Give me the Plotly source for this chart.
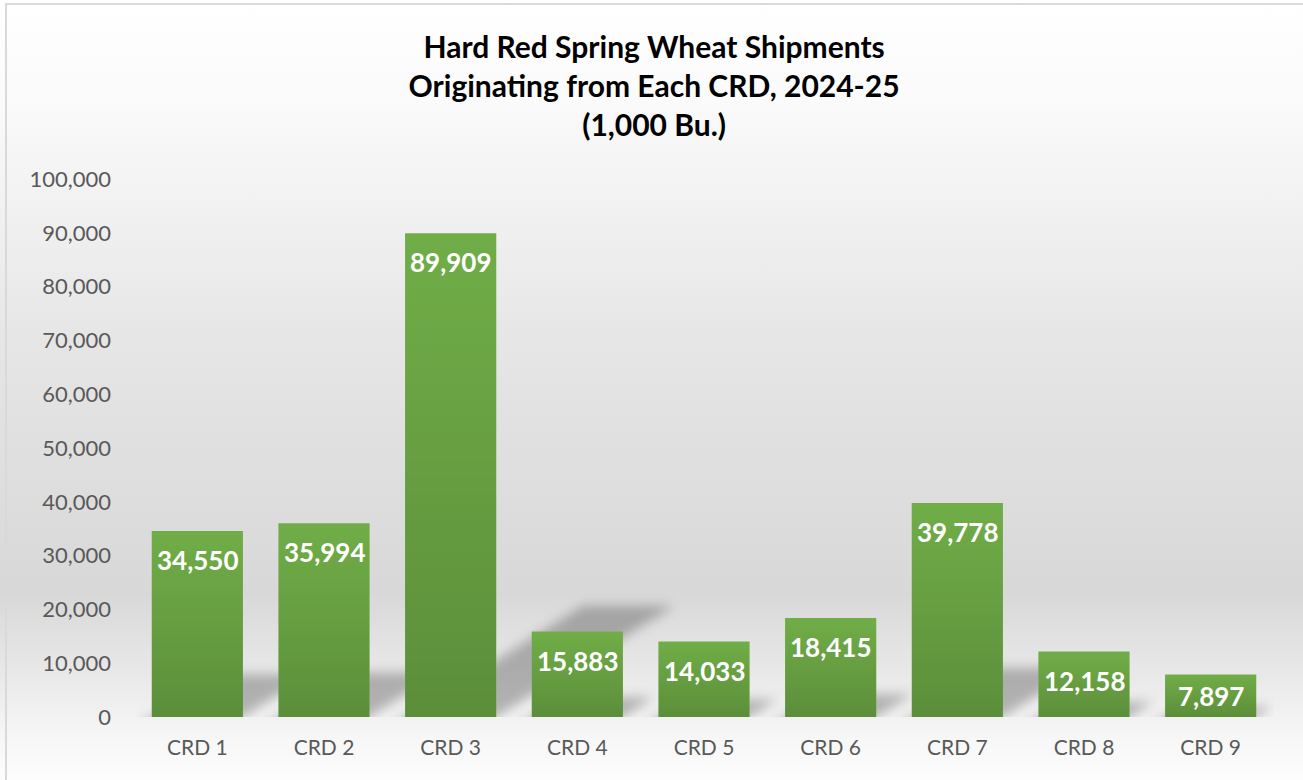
import base64
import plotly.graph_objects as go

# data (1,000 bu.)
categories = ["CRD 1", "CRD 2", "CRD 3", "CRD 4", "CRD 5", "CRD 6", "CRD 7", "CRD 8", "CRD 9"]
shipments = [34550, 35994, 89909, 15883, 14033, 18415, 39778, 12158, 7897]
y_ticks = [0, 10000, 20000, 30000, 40000, 50000, 60000, 70000, 80000, 90000, 100000]

FONT = "Lato"
W, H = 1303, 780
M = dict(l=134, r=29, t=179, b=63)
plot_w = W - M["l"] - M["r"]
plot_h = H - M["t"] - M["b"]
y_max = 100000
bar_w = 0.72
px_x = plot_w / len(categories)   # pixels per category
px_y = plot_h / y_max             # pixels per bushel unit


def svg_uri(svg):
    return "data:image/svg+xml;base64," + base64.b64encode(svg.encode()).decode()


# chart-area background: light vertical gradient + thin border
bg_svg = f"""<svg xmlns="http://www.w3.org/2000/svg" width="{W}" height="{H}" viewBox="0 0 {W} {H}" preserveAspectRatio="none">
<defs><linearGradient id="g" x1="0" y1="0" x2="0" y2="1">
<stop offset="0" stop-color="#ffffff"/>
<stop offset="0.12" stop-color="#fbfbfb"/>
<stop offset="0.45" stop-color="#e5e5e5"/>
<stop offset="0.76" stop-color="#d8d8d8"/>
<stop offset="0.88" stop-color="#ebebeb"/>
<stop offset="0.95" stop-color="#f7f7f7"/>
<stop offset="1" stop-color="#fdfdfd"/>
</linearGradient></defs>
<rect width="{W}" height="{H}" fill="url(#g)"/>
<rect x="6" y="4" width="{W + 40}" height="{H + 40}" fill="none" stroke="#d9d9d9" stroke-width="2"/>
</svg>"""

images = [dict(source=svg_uri(bg_svg), xref="paper", yref="paper",
               x=-M["l"] / plot_w, y=1 + M["t"] / plot_h,
               sizex=W / plot_w, sizey=H / plot_h,
               xanchor="left", yanchor="top", sizing="stretch", layer="below")]

# soft perspective shadows cast back/right of each bar
pad = 16
for i, v in enumerate(shipments):
    sh = 0.23 * v * px_y
    shift = 1.6 * sh
    bw = bar_w * px_x
    iw = bw + shift + 2 * pad
    ih = sh + pad
    e = 30
    off = shift * e / sh
    pts = [(pad + shift, pad), (pad + shift + bw, pad),
           (pad + bw - off, pad + sh + e), (pad - off, pad + sh + e)]
    pts_s = " ".join(f"{x:.1f},{y:.1f}" for x, y in pts)
    sv = f"""<svg xmlns="http://www.w3.org/2000/svg" width="{iw:.1f}" height="{ih:.1f}" viewBox="0 0 {iw:.1f} {ih:.1f}" preserveAspectRatio="none">
<defs><filter id="b" x="-50%" y="-50%" width="200%" height="200%"><feGaussianBlur stdDeviation="6"/></filter></defs>
<polygon points="{pts_s}" fill="rgba(0,0,0,0.26)" filter="url(#b)"/>
</svg>"""
    images.append(dict(source=svg_uri(sv), xref="x", yref="y",
                       x=i - bar_w / 2 - pad / px_x, y=ih / px_y,
                       sizex=iw / px_x, sizey=ih / px_y,
                       xanchor="left", yanchor="top", sizing="stretch", layer="below"))

# darker-at-the-bottom shading over each bar
shade_svg = """<svg xmlns="http://www.w3.org/2000/svg" width="10" height="100" viewBox="0 0 10 100" preserveAspectRatio="none">
<defs><linearGradient id="s" x1="0" y1="0" x2="0" y2="1">
<stop offset="0" stop-color="#000" stop-opacity="0"/>
<stop offset="1" stop-color="#000" stop-opacity="0.18"/>
</linearGradient></defs>
<rect width="10" height="100" fill="url(#s)"/>
</svg>"""
for i, v in enumerate(shipments):
    images.append(dict(source=svg_uri(shade_svg), xref="x", yref="y",
                       x=i - bar_w / 2, y=v, sizex=bar_w, sizey=v,
                       xanchor="left", yanchor="top", sizing="stretch", layer="above"))

fig = go.Figure(go.Bar(x=list(range(len(categories))), y=shipments,
                       marker=dict(color="#70ad47", line=dict(width=0)),
                       width=bar_w, hovertemplate="%{customdata}: %{y:,}<extra></extra>",
                       customdata=categories))

# value labels, inside end of each bar (centred when the bar is too short)
label_drop = 29
for i, v in enumerate(shipments):
    bar_px = v * px_y
    if bar_px < 2 * label_drop:
        fig.add_annotation(x=i, y=v / 2, text=f"{v:,}", showarrow=False, yanchor="middle",
                           font=dict(family=FONT, size=26, color="white", weight="bold"))
    else:
        fig.add_annotation(x=i, y=v, text=f"{v:,}", showarrow=False, yanchor="middle",
                           yshift=-label_drop,
                           font=dict(family=FONT, size=26, color="white", weight="bold"))

fig.update_layout(
    width=W, height=H, margin=M,
    paper_bgcolor="white", plot_bgcolor="rgba(0,0,0,0)",
    images=images, showlegend=False,
    title=dict(text="Hard Red Spring Wheat Shipments<br>Originating from Each CRD, 2024-25<br>(1,000 Bu.)",
               x=0.502, xanchor="center", y=0.926, yanchor="top", yref="container",
               font=dict(family=FONT, size=30, color="black", weight="bold")),
    font=dict(family=FONT),
)
fig.update_xaxes(range=[-0.5, len(categories) - 0.5], tickvals=list(range(len(categories))),
                 ticktext=categories, showgrid=False, zeroline=False, showline=False, ticks="",
                 ticklabelstandoff=16, tickfont=dict(family=FONT, size=21, color="#595959"))
fig.update_yaxes(range=[0, y_max], tickvals=y_ticks, tickformat=",", showgrid=False,
                 zeroline=False, showline=False, ticks="", ticklabelstandoff=22,
                 tickfont=dict(family=FONT, size=22, color="#595959"))

fig.write_html("out.html", config={"displayModeBar": False},
               post_script="document.body.style.margin='0';")
